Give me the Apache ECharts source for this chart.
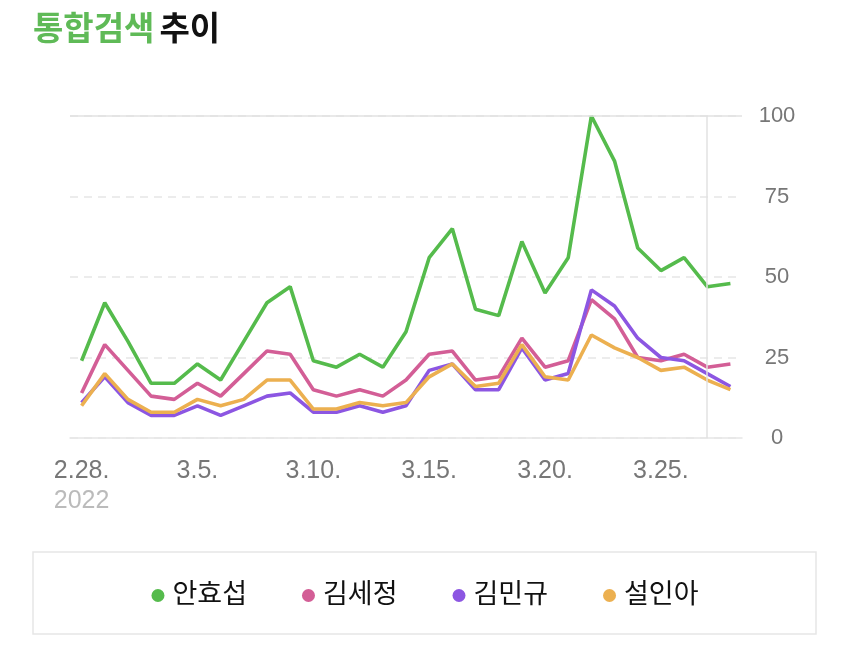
<!DOCTYPE html>
<html>
<head>
<meta charset="utf-8">
<script src="https://cdn.jsdelivr.net/npm/echarts@6/dist/echarts.min.js"></script>
<style>html,body{margin:0;padding:0;background:#fff;}#c{width:850px;height:648px;}</style>
</head>
<body>
<div id="c"></div>
<script>
const categories = ['2.28.','3.1.','3.2.','3.3.','3.4.','3.5.','3.6.','3.7.','3.8.','3.9.','3.10.','3.11.','3.12.','3.13.','3.14.','3.15.','3.16.','3.17.','3.18.','3.19.','3.20.','3.21.','3.22.','3.23.','3.24.','3.25.','3.26.','3.27.','3.28.'];
const seriesNames = ['안효섭','김세정','김민규','설인아'];
const ahnHyoseop = [24,42,30,17,17,23,18,30,42,47,24,22,26,22,33,56,65,40,38,61,45,56,100,86,59,52,56,47,48];
const kimSejeong = [14,29,21,13,12,17,13,20,27,26,15,13,15,13,18,26,27,18,19,31,22,24,43,37,25,24,26,22,23];
const kimMingyu = [11,19,11,7,7,10,7,10,13,14,8,8,10,8,10,21,23,15,15,28,18,20,46,41,31,25,24,20,16];
const seolIna = [10,20,12,8,8,12,10,12,18,18,9,9,11,10,11,19,23,16,17,29,19,18,32,28,25,21,22,18,15];
const yTicks = [0,25,50,75,100];
const yearLabel = '2022';
const markerDay = '3.27.';

const colors = ['#55bb4c','#d35e96','#8c56e2','#ecb050'];
const FONT = "'Liberation Sans', 'Noto Sans CJK KR', sans-serif";
const dataSets = [ahnHyoseop, kimSejeong, kimMingyu, seolIna];

const chart = echarts.init(document.getElementById('c'), null, {renderer:'canvas'});
const series = dataSets.map((d, i) => ({
  name: seriesNames[i],
  type: 'line',
  data: d,
  symbol: 'none',
  smooth: false,
  lineStyle: {width: 3.6, color: colors[i]},
  itemStyle: {color: colors[i]},
  z: 3
}));
series[0].markLine = {
  silent: true,
  symbol: 'none',
  label: {show: false},
  lineStyle: {type: 'solid', color: '#e2e2e2', width: 1.5},
  data: [{xAxis: markerDay}, {yAxis: yTicks[yTicks.length-1]}]
};

chart.setOption({
  backgroundColor: '#ffffff',
  animation: false,
  title: {
    left: 28, top: 9,
    text: '{g|통합검색} {b|추이}',
    textStyle: {
      rich: {
        g: {fontSize: 33, fontWeight: 'bold', color: '#5fba57', fontFamily: FONT},
        b: {fontSize: 33, fontWeight: 'bold', color: '#111111', fontFamily: FONT}
      }
    }
  },
  graphic: [{
    type: 'rect', z: -1,
    shape: {x: 33, y: 552, width: 783, height: 82},
    style: {fill: '#ffffff', stroke: '#e6e6e6', lineWidth: 1.5}
  }],
  legend: {
    data: seriesNames,
    left: 'center',
    top: 577,
    icon: 'circle',
    itemWidth: 13, itemHeight: 13,
    itemGap: 55,
    textStyle: {fontSize: 27, color: '#111', fontFamily: FONT, padding: [0,0,0,3]}
  },
  grid: {left: 70, right: 108, top: 116, bottom: 210, containLabel: false},
  xAxis: {
    type: 'category',
    data: categories,
    boundaryGap: true,
    axisLine: {show: true, lineStyle: {color: '#e6e6e6', width: 1.5}},
    axisTick: {show: false},
    splitLine: {show: false},
    axisLabel: {
      interval: function(idx){ return idx % 5 === 0; },
      margin: 18,
      fontSize: 25,
      color: '#777777',
      fontFamily: FONT,
      formatter: function(v, idx){
        if (idx === 0) return '{a|' + v + '}\n{y|' + yearLabel + '}';
        return '{a|' + v + '}';
      },
      rich: {
        a: {fontSize: 25, color: '#777777', fontFamily: FONT, lineHeight: 30},
        y: {fontSize: 25, color: '#bbbbbb', fontFamily: FONT, lineHeight: 30}
      }
    }
  },
  yAxis: {
    type: 'value',
    position: 'right',
    min: yTicks[0], max: yTicks[yTicks.length-1], interval: 25,
    axisLine: {show: false},
    axisTick: {show: false},
    splitLine: {show: true, lineStyle: {type: [8,6], color: '#e6e6e6', width: 1.5}},
    axisLabel: {margin: 35, align: 'center', fontSize: 22, color: '#777777', fontFamily: FONT}
  },
  series: series
});
</script>
</body>
</html>
